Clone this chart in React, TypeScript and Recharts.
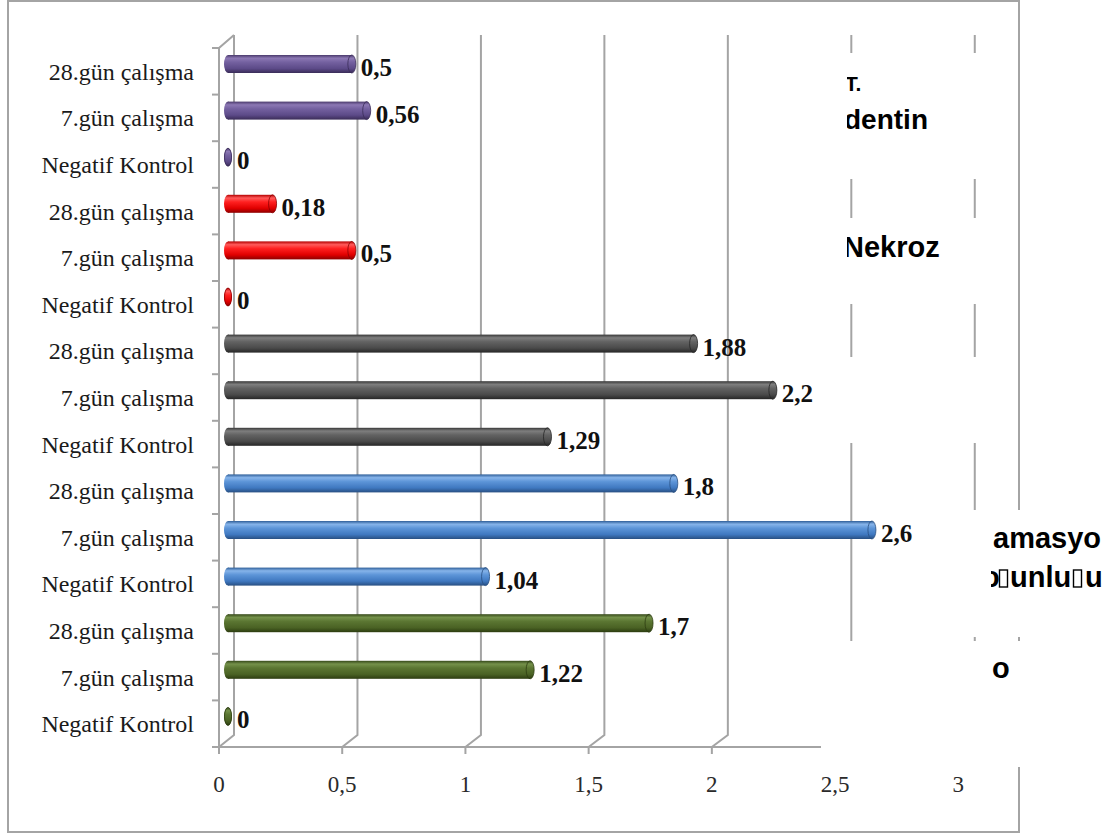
import React from 'react';
import { BarChart, Bar, XAxis, YAxis, CartesianGrid, LabelList } from 'recharts';

// category labels inside each group, top to bottom
const CATEGORIES = ['28.gün çalışma', '7.gün çalışma', 'Negatif Kontrol'];

// one array per coloured group, same order as CATEGORIES (top group first)
const PURPLE_VALUES = [0.5, 0.56, 0];
const RED_VALUES = [0.18, 0.5, 0];
const GRAY_VALUES = [1.88, 2.2, 1.29];
const BLUE_VALUES = [1.8, 2.6, 1.04];
const GREEN_VALUES = [1.7, 1.22, 0];

const X_TICKS = [0, 0.5, 1, 1.5, 2, 2.5, 3];

const GROUPS = [PURPLE_VALUES, RED_VALUES, GRAY_VALUES, BLUE_VALUES, GREEN_VALUES];

const rows = GROUPS.flatMap((vals, g) =>
  vals.map((value, i) => ({ key: `${g}-${i}`, label: CATEGORIES[i], value, group: g }))
);

// cylinder shading per group: edge, highlight, body, lower body, shadow
const SHADES = [
  ['#4a3a6c', '#8c78b4', '#7461a0', '#5c4a88', '#3a2c58'],
  ['#b40000', '#ff5a5a', '#ff2020', '#e00000', '#8c0000'],
  ['#383838', '#7e7e7e', '#626262', '#4a4a4a', '#262626'],
  ['#2e5e98', '#86b4ea', '#5d95d8', '#3f78c0', '#284f82'],
  ['#36491a', '#74914a', '#5b7632', '#4a6224', '#2c3c10'],
];
const STOPS = [0, 0.18, 0.4, 0.75, 1];

const W = 1119;
const H = 834;
const PLOT_LEFT = 228;
const PLOT_TOP = 41;
const PLOT_RIGHT = 971;
const PLOT_BOTTOM = 740;
const BAND = (PLOT_BOTTOM - PLOT_TOP) / rows.length;

// 3d wall: front axis sits down-left of the bars, back wall up-right
const FRONT_Y = 747;
const BACK_TOP = 35;
const BACK_BOTTOM = 735;
const frontX = (x: number) => 219 + (x - PLOT_LEFT) * 0.995;
const backX = (x: number) => 234 + (x - PLOT_LEFT) * 0.997;

const AXIS_GRAY = '#a4a4a4';
const SERIF = '"Liberation Serif", "Times New Roman", serif';
const SANS = '"Liberation Sans", Arial, sans-serif';

const fmt = (v: number) => String(v).replace('.', ',');

const renderGridLine = (props: any) => {
  const bx = backX(props.x1);
  const fx = frontX(props.x1);
  return (
    <path
      key={props.key ?? `g-${props.x1}`}
      d={`M${bx},${BACK_TOP} V${BACK_BOTTOM} L${fx},${FRONT_Y}`}
      stroke={AXIS_GRAY}
      strokeWidth={2}
      fill="none"
    />
  );
};

const renderValueTick = (props: any) => {
  const { x, payload } = props;
  const fx = frontX(x);
  return (
    <g>
      <line x1={fx} y1={FRONT_Y} x2={fx} y2={FRONT_Y + 7} stroke={AXIS_GRAY} strokeWidth={2} />
      <text x={fx} y={792} textAnchor="middle" fontFamily={SERIF} fontSize={23} fill="#2a2a2a">
        {fmt(payload.value)}
      </text>
      {payload.value === 0 && (
        <g stroke={AXIS_GRAY} strokeWidth={2} fill="none">
          <path d={`M${backX(PLOT_LEFT)},${BACK_TOP} L219,48 V${FRONT_Y} H${frontX(PLOT_RIGHT)}`} />
        </g>
      )}
    </g>
  );
};

const renderCategoryTick = (props: any) => {
  const { y, index, payload } = props;
  const fy = y + 7;
  const row = rows.find((r) => r.key === payload.value);
  return (
    <g>
      <line x1={212} y1={fy - BAND / 2} x2={219} y2={fy - BAND / 2} stroke={AXIS_GRAY} strokeWidth={2} />
      {index === rows.length - 1 && (
        <line x1={212} y1={fy + BAND / 2} x2={219} y2={fy + BAND / 2} stroke={AXIS_GRAY} strokeWidth={2} />
      )}
      <text x={194} y={fy + 8.5} textAnchor="end" fontFamily={SERIF} fontSize={24} fill="#1a1a1a">
        {row ? row.label : ''}
      </text>
    </g>
  );
};

const renderCylinder = (props: any) => {
  const { x, y, width, height, payload } = props;
  const g = payload.group;
  const w = Math.max(width || 0, 0);
  const cy = y + height / 2;
  const ry = height / 2;
  const fill = `url(#cyl-${g})`;
  const edge = SHADES[g][4];
  return (
    <g>
      <ellipse cx={x} cy={cy} rx={4} ry={ry} fill={fill} />
      {w > 0 && <rect x={x} y={y} width={w} height={height} fill={fill} />}
      <ellipse cx={x + w} cy={cy} rx={w > 0 ? 4 : 3.5} ry={ry} fill={fill} stroke={edge} strokeWidth={0.8} />
    </g>
  );
};

const renderValueLabel = (props: any) => {
  const vb = props.viewBox && props.viewBox.width !== undefined ? props.viewBox : props;
  const { x, y, width, height } = vb;
  return (
    <text
      x={x + width + 9}
      y={y + height / 2 + 12}
      fontFamily={SERIF}
      fontWeight="bold"
      fontSize={25}
      fill="#111"
    >
      {fmt(props.value)}
    </text>
  );
};

export default function App() {
  return (
    <div style={{ position: 'absolute', left: 0, top: 0, width: W, height: H, background: '#fff' }}>
      <BarChart
        width={W}
        height={H}
        data={rows}
        layout="vertical"
        margin={{ top: PLOT_TOP, right: W - PLOT_RIGHT, bottom: H - PLOT_BOTTOM - 30, left: 0 }}
      >
        <defs>
          {SHADES.map((s, g) => (
            <linearGradient key={g} id={`cyl-${g}`} x1="0" y1="0" x2="0" y2="1">
              {s.map((c, i) => (
                <stop key={i} offset={STOPS[i]} stopColor={c} />
              ))}
            </linearGradient>
          ))}
        </defs>
        <CartesianGrid horizontal={false} vertical={renderGridLine} />
        <XAxis
          type="number"
          domain={[0, 3]}
          ticks={X_TICKS}
          interval={0}
          height={30}
          axisLine={false}
          tickLine={false}
          tick={renderValueTick}
        />
        <YAxis
          type="category"
          dataKey="key"
          width={PLOT_LEFT}
          interval={0}
          axisLine={false}
          tickLine={false}
          tick={renderCategoryTick}
        />
        <Bar dataKey="value" barSize={18} shape={renderCylinder} isAnimationActive={false}>
          <LabelList dataKey="value" content={renderValueLabel} />
        </Bar>
      </BarChart>

      {/* outer frame and the legend boxes sitting over the right side */}
      <svg width={W} height={H} style={{ position: 'absolute', left: 0, top: 0 }}>
        <defs>
          <clipPath id="legend-top">
            <rect x={847} y={0} width={272} height={360} />
          </clipPath>
          <clipPath id="legend-bottom">
            <rect x={991} y={500} width={128} height={300} />
          </clipPath>
        </defs>
        <rect x={8} y={1} width={1011} height={831} fill="none" stroke={AXIS_GRAY} strokeWidth={2} />
        <g fill="#fff">
          <rect x={845} y={53} width={155} height={126} />
          <rect x={845} y={218} width={155} height={86} />
          <rect x={845} y={357} width={160} height={86} />
          <rect x={958} y={510} width={161} height={127} />
          <rect x={821} y={641} width={298} height={126} />
        </g>
        <g fontFamily={SANS} fontWeight="bold" fill="#000" clipPath="url(#legend-top)">
          <text x={845} y={91} fontSize={21}>T.</text>
          <text x={844} y={129} fontSize={28}>dentin</text>
          <text x={843} y={257} fontSize={29}>Nekroz</text>
        </g>
        <g fontFamily={SANS} fontWeight="bold" fill="#000" fontSize={29} clipPath="url(#legend-bottom)">
          <text x={993} y={548}>amasyo</text>
          <text x={982} y={587}>o</text>
          <rect x={999.5} y={570} width={8} height={17} fill="none" stroke="#000" strokeWidth={1.4} />
          <text x={1010} y={587}>unlu</text>
          <rect x={1073.5} y={570} width={8} height={17} fill="none" stroke="#000" strokeWidth={1.4} />
          <text x={1085} y={587}>u</text>
          <text x={992} y={678}>o</text>
        </g>
      </svg>
    </div>
  );
}
